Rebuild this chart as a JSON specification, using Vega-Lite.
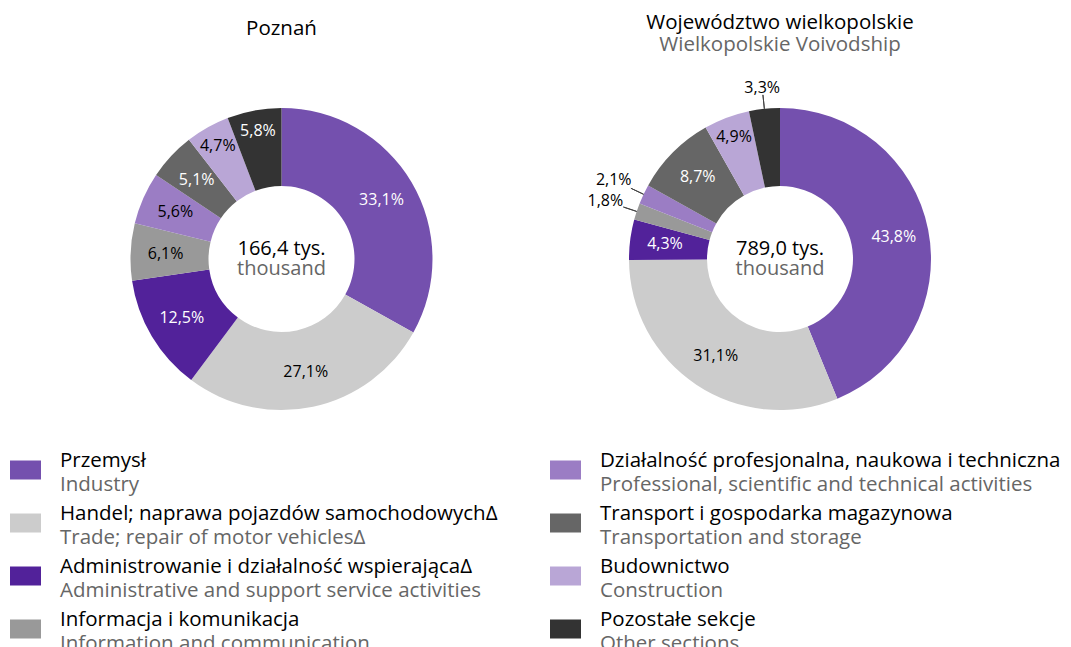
{
  "$schema": "https://vega.github.io/schema/vega-lite/v6.json",
  "padding": {"top": 12, "left": 0, "right": 0, "bottom": 0},
  "background": "white",
  "config": {
    "font": "Open Sans",
    "view": {"stroke": null},
    "locale": {"number": {"decimal": ",", "thousands": " ", "grouping": [3], "currency": ["", "%"]}},
    "title": {"font": "Open Sans", "fontSize": 20.5, "fontWeight": "normal", "color": "#000000", "subtitleFont": "Open Sans", "subtitleFontSize": 20.5, "subtitleColor": "#666666", "subtitlePadding": 2, "anchor": "middle"},
    "text": {"font": "Open Sans"}
  },
  "datasets": {
    "poznan": [
      {"key": "Przemysł", "idx": 1, "value": 33.1},
      {"key": "Handel", "idx": 2, "value": 27.1},
      {"key": "Administrowanie", "idx": 3, "value": 12.5},
      {"key": "Informacja", "idx": 4, "value": 6.1},
      {"key": "Działalność", "idx": 5, "value": 5.6},
      {"key": "Transport", "idx": 6, "value": 5.1},
      {"key": "Budownictwo", "idx": 7, "value": 4.7},
      {"key": "Pozostałe", "idx": 8, "value": 5.8}
    ],
    "wlkp": [
      {"key": "Przemysł", "idx": 1, "value": 43.8},
      {"key": "Handel", "idx": 2, "value": 31.1},
      {"key": "Administrowanie", "idx": 3, "value": 4.3},
      {"key": "Informacja", "idx": 4, "value": 1.8},
      {"key": "Działalność", "idx": 5, "value": 2.1},
      {"key": "Transport", "idx": 6, "value": 8.7},
      {"key": "Budownictwo", "idx": 7, "value": 4.9},
      {"key": "Pozostałe", "idx": 8, "value": 3.3}
    ],
    "legend": [
      {"key": "Przemysł", "col": 0, "row": 0, "pl": "Przemysł", "en": "Industry"},
      {"key": "Handel", "col": 0, "row": 1, "pl": "Handel; naprawa pojazdów samochodowychΔ", "en": "Trade; repair of motor vehiclesΔ"},
      {"key": "Administrowanie", "col": 0, "row": 2, "pl": "Administrowanie i działalność wspierającaΔ", "en": "Administrative and support service activities"},
      {"key": "Informacja", "col": 0, "row": 3, "pl": "Informacja i komunikacja", "en": "Information and communication"},
      {"key": "Działalność", "col": 1, "row": 0, "pl": "Działalność profesjonalna, naukowa i techniczna", "en": "Professional, scientific and technical activities"},
      {"key": "Transport", "col": 1, "row": 1, "pl": "Transport i gospodarka magazynowa", "en": "Transportation and storage"},
      {"key": "Budownictwo", "col": 1, "row": 2, "pl": "Budownictwo", "en": "Construction"},
      {"key": "Pozostałe", "col": 1, "row": 3, "pl": "Pozostałe sekcje", "en": "Other sections"}
    ]
  },
  "spacing": 19.5,
  "vconcat": [
    {
      "spacing": 0,
      "hconcat": [
        {
          "width": 563,
          "height": 320,
          "data": {"name": "poznan"},
          "title": {"text": "Poznań", "offset": 60},
          "layer": [
            {
              "mark": {"type": "arc", "innerRadius": 73, "outerRadius": 151},
              "encoding": {
                "theta": {"field": "value", "type": "quantitative", "stack": true},
                "order": {"field": "idx", "type": "quantitative"},
                "color": {"field": "key", "type": "nominal", "legend": null,
                  "scale": {"domain": ["Przemysł", "Handel", "Administrowanie", "Informacja", "Działalność", "Transport", "Budownictwo", "Pozostałe"],
                            "range": ["#7450ae", "#cccccc", "#52229a", "#999999", "#9b7dc4", "#666666", "#b9a6d6", "#333333"]}}
              }
            },
            {
              "mark": {"type": "text", "radius": 116, "fontSize": 16},
              "encoding": {
                "theta": {"field": "value", "type": "quantitative", "stack": true},
                "order": {"field": "idx", "type": "quantitative"},
                "text": {"condition": {"test": "datum.value < 4 || datum.key == 'Budownictwo' || datum.key == 'Pozostałe'", "value": ""}, "field": "value", "type": "quantitative", "format": "$.1f"},
                "color": {"condition": {"test": "indexof(['Przemysł','Administrowanie','Transport','Pozostałe'], datum.key) >= 0", "value": "#ffffff"}, "value": "#000000"}
              }
            },
            {
              "mark": {"type": "text", "radius": 130, "fontSize": 16},
              "encoding": {
                "theta": {"field": "value", "type": "quantitative", "stack": true},
                "order": {"field": "idx", "type": "quantitative"},
                "text": {"condition": {"test": "datum.value < 4 || (datum.key != 'Budownictwo' && datum.key != 'Pozostałe')", "value": ""}, "field": "value", "type": "quantitative", "format": "$.1f"},
                "color": {"condition": {"test": "indexof(['Przemysł','Administrowanie','Transport','Pozostałe'], datum.key) >= 0", "value": "#ffffff"}, "value": "#000000"}
              }
            },
            {
              "data": {"values": [{"a": "166,4 tys.", "b": "thousand"}]},
              "layer": [
                {"mark": {"type": "text", "fontSize": 20, "dy": -10, "color": "#000000"}, "encoding": {"text": {"field": "a"}}},
                {"mark": {"type": "text", "fontSize": 20, "dy": 10, "color": "#666666"}, "encoding": {"text": {"field": "b"}}}
              ]
            }
          ]
        },
        {
          "width": 434,
          "height": 320,
          "data": {"name": "wlkp"},
          "title": {"text": "Województwo wielkopolskie", "subtitle": "Wielkopolskie Voivodship", "offset": 12},
          "layer": [
            {
              "mark": {"type": "arc", "innerRadius": 73, "outerRadius": 151},
              "encoding": {
                "theta": {"field": "value", "type": "quantitative", "stack": true},
                "order": {"field": "idx", "type": "quantitative"},
                "color": {"field": "key", "type": "nominal", "legend": null,
                  "scale": {"domain": ["Przemysł", "Handel", "Administrowanie", "Informacja", "Działalność", "Transport", "Budownictwo", "Pozostałe"],
                            "range": ["#7450ae", "#cccccc", "#52229a", "#999999", "#9b7dc4", "#666666", "#b9a6d6", "#333333"]}}
              }
            },
            {
              "mark": {"type": "arc", "innerRadius": 151, "outerRadius": 165, "padAngle": 1, "filled": false, "stroke": "#444444", "strokeWidth": 1},
              "encoding": {
                "theta": {"field": "value", "type": "quantitative", "stack": true},
                "order": {"field": "idx", "type": "quantitative"},
                "strokeOpacity": {"condition": {"test": "datum.value < 4", "value": 1}, "value": 0}
              }
            },
            {
              "mark": {"type": "text", "radius": 116, "fontSize": 16},
              "encoding": {
                "theta": {"field": "value", "type": "quantitative", "stack": true},
                "order": {"field": "idx", "type": "quantitative"},
                "text": {"condition": {"test": "datum.value < 4 || datum.key == 'Budownictwo' || datum.key == 'Pozostałe'", "value": ""}, "field": "value", "type": "quantitative", "format": "$.1f"},
                "color": {"condition": {"test": "indexof(['Przemysł','Administrowanie','Transport','Pozostałe'], datum.key) >= 0", "value": "#ffffff"}, "value": "#000000"}
              }
            },
            {
              "mark": {"type": "text", "radius": 130, "fontSize": 16},
              "encoding": {
                "theta": {"field": "value", "type": "quantitative", "stack": true},
                "order": {"field": "idx", "type": "quantitative"},
                "text": {"condition": {"test": "datum.value < 4 || (datum.key != 'Budownictwo' && datum.key != 'Pozostałe')", "value": ""}, "field": "value", "type": "quantitative", "format": "$.1f"},
                "color": {"condition": {"test": "indexof(['Przemysł','Administrowanie','Transport','Pozostałe'], datum.key) >= 0", "value": "#ffffff"}, "value": "#000000"}
              }
            },
            {
              "mark": {"type": "text", "radius": 184, "fontSize": 16, "color": "#000000"},
              "encoding": {
                "theta": {"field": "value", "type": "quantitative", "stack": true},
                "order": {"field": "idx", "type": "quantitative"},
                "text": {"condition": {"test": "datum.value >= 3", "value": ""}, "field": "value", "type": "quantitative", "format": "$.1f"}
              }
            },
            {
              "mark": {"type": "text", "radius": 172, "fontSize": 16, "color": "#000000"},
              "encoding": {
                "theta": {"field": "value", "type": "quantitative", "stack": true},
                "order": {"field": "idx", "type": "quantitative"},
                "text": {"condition": {"test": "datum.value < 3 || datum.value >= 4", "value": ""}, "field": "value", "type": "quantitative", "format": "$.1f"}
              }
            },
            {
              "data": {"values": [{"a": "789,0 tys.", "b": "thousand"}]},
              "layer": [
                {"mark": {"type": "text", "fontSize": 20, "dy": -10, "color": "#000000"}, "encoding": {"text": {"field": "a"}}},
                {"mark": {"type": "text", "fontSize": 20, "dy": 10, "color": "#666666"}, "encoding": {"text": {"field": "b"}}}
              ]
            }
          ]
        }
      ]
    },
    {
      "width": 1071,
      "height": 207,
      "data": {"name": "legend"},
      "encoding": {
        "x": {"field": "col", "type": "quantitative", "scale": {"domain": [0, 1], "range": [25.5, 565.5]}, "axis": null},
        "y": {"field": "row", "type": "quantitative", "scale": {"domain": [0, 3], "range": [29.5, 188.5]}, "axis": null}
      },
      "layer": [
        {
          "mark": {"type": "point", "shape": "M-1,-0.613H1V0.613H-1Z", "size": 961, "filled": true, "opacity": 1},
          "encoding": {
            "color": {"field": "key", "type": "nominal", "legend": null,
              "scale": {"domain": ["Przemysł", "Handel", "Administrowanie", "Informacja", "Działalność", "Transport", "Budownictwo", "Pozostałe"],
                        "range": ["#7450ae", "#cccccc", "#52229a", "#999999", "#9b7dc4", "#666666", "#b9a6d6", "#333333"]}}
          }
        },
        {
          "mark": {"type": "text", "align": "left", "baseline": "alphabetic", "dx": 34.5, "dy": -3, "fontSize": 20.5, "color": "#000000"},
          "encoding": {"text": {"field": "pl"}}
        },
        {
          "mark": {"type": "text", "align": "left", "baseline": "alphabetic", "dx": 34.5, "dy": 20.5, "fontSize": 20.5, "color": "#666666"},
          "encoding": {"text": {"field": "en"}}
        }
      ]
    }
  ]
}
